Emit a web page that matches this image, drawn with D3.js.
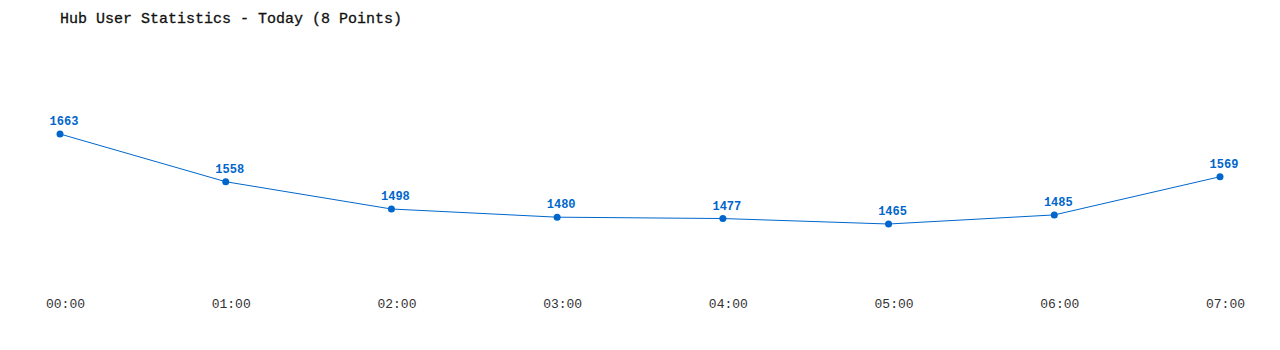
<!DOCTYPE html>
<html>
<head>
<meta charset="utf-8">
<script src="https://cdn.jsdelivr.net/npm/d3@7"></script>
<style>
  body { margin: 0; background: #fff; }
  svg { display: block; }
</style>
</head>
<body>
<div class="chart"></div>
<script>
const hours = ["00:00", "01:00", "02:00", "03:00", "04:00", "05:00", "06:00", "07:00"];
const users = [1663, 1558, 1498, 1480, 1477, 1465, 1485, 1569];

const width = 1280, height = 350;
const blue = "#0066cc";
const font = "'Liberation Mono', 'DejaVu Sans Mono', monospace";

const svg = d3.select(".chart").append("svg")
  .attr("width", width)
  .attr("height", height);

const xScale = d3.scalePoint()
  .domain(hours)
  .range([60, 1220]);

const yScale = d3.scaleLinear()
  .domain([1465, 1663])
  .range([224, 134]);

// title
svg.append("text")
  .attr("x", 60)
  .attr("y", 23)
  .attr("font-family", font)
  .attr("font-size", 15)
  .attr("fill", "#111")
  .attr("stroke", "#111")
  .attr("stroke-width", 0.3)
  .text("Hub User Statistics - Today (8 Points)");

const line = d3.line()
  .x((d, i) => xScale(hours[i]))
  .y(d => yScale(d));

svg.append("path")
  .datum(users)
  .attr("fill", "none")
  .attr("stroke", blue)
  .attr("stroke-width", 1)
  .attr("d", line);

svg.selectAll("circle")
  .data(users)
  .enter()
  .append("circle")
  .attr("cx", (d, i) => xScale(hours[i]))
  .attr("cy", d => yScale(d))
  .attr("r", 3.5)
  .attr("fill", blue);

svg.selectAll(".val")
  .data(users)
  .enter()
  .append("text")
  .attr("class", "val")
  .attr("x", (d, i) => xScale(hours[i]) + 4)
  .attr("y", d => yScale(d) - 9)
  .attr("text-anchor", "middle")
  .attr("font-family", font)
  .attr("font-size", 12)
  .attr("font-weight", "bold")
  .attr("fill", blue)
  .text(d => d);

// x axis labels
const xAxis = d3.axisBottom(xScale).tickSize(0).tickPadding(0);
const gx = svg.append("g")
  .attr("transform", "translate(5, 299)")
  .call(xAxis);
gx.select(".domain").remove();
gx.selectAll("text")
  .attr("font-family", font)
  .attr("font-size", 13)
  .attr("fill", "#333");
</script>
</body>
</html>
